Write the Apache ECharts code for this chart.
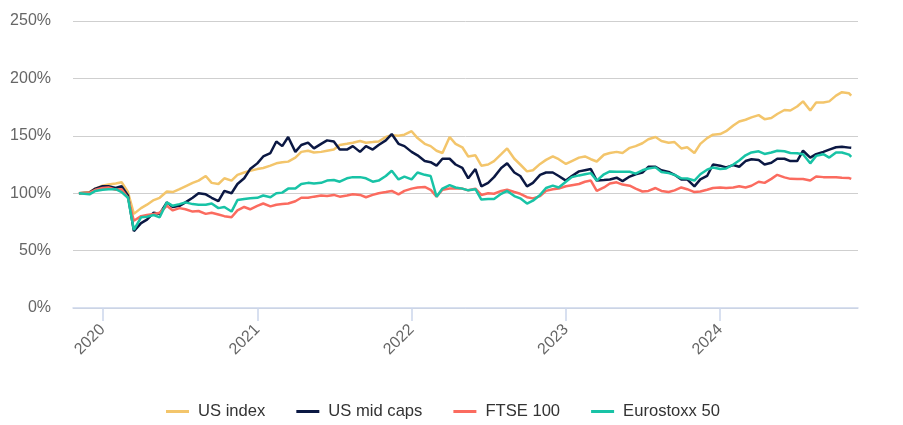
<!DOCTYPE html>
<html>
<head>
<meta charset="utf-8">
<title>Index performance</title>
<script src="https://cdn.jsdelivr.net/npm/echarts@6.0.0/dist/echarts.min.js"></script>
<style>
  html, body { margin: 0; padding: 0; background: #fff; }
  #main { width: 903px; height: 425px; }
</style>
</head>
<body>
<div id="main"></div>
<script>
// semi-monthly sample dates
var dates = [
  '2019-11-06','2019-12-01','2019-12-15',
  '2020-01-01','2020-01-15','2020-02-01','2020-02-15','2020-03-01','2020-03-15','2020-04-01','2020-04-15','2020-05-01','2020-05-15','2020-06-01','2020-06-15',
  '2020-07-01','2020-07-15','2020-08-01','2020-08-15','2020-09-01','2020-09-15','2020-10-01','2020-10-15','2020-11-01','2020-11-15','2020-12-01','2020-12-15',
  '2021-01-01','2021-01-15','2021-02-01','2021-02-15','2021-03-01','2021-03-15','2021-04-01','2021-04-15','2021-05-01','2021-05-15','2021-06-01','2021-06-15',
  '2021-07-01','2021-07-15','2021-08-01','2021-08-15','2021-09-01','2021-09-15','2021-10-01','2021-10-15','2021-11-01','2021-11-15','2021-12-01','2021-12-15',
  '2022-01-01','2022-01-15','2022-02-01','2022-02-15','2022-03-01','2022-03-15','2022-04-01','2022-04-15','2022-05-01','2022-05-15','2022-06-01','2022-06-15',
  '2022-07-01','2022-07-15','2022-08-01','2022-08-15','2022-09-01','2022-09-15','2022-10-01','2022-10-15','2022-11-01','2022-11-15','2022-12-01','2022-12-15',
  '2023-01-01','2023-01-15','2023-02-01','2023-02-15','2023-03-01','2023-03-15','2023-04-01','2023-04-15','2023-05-01','2023-05-15','2023-06-01','2023-06-15',
  '2023-07-01','2023-07-15','2023-08-01','2023-08-15','2023-09-01','2023-09-15','2023-10-01','2023-10-15','2023-11-01','2023-11-15','2023-12-01','2023-12-15',
  '2024-01-01','2024-01-15','2024-02-01','2024-02-15','2024-03-01','2024-03-15','2024-04-01','2024-04-15','2024-05-01','2024-05-15','2024-06-01','2024-06-15',
  '2024-07-01','2024-07-15','2024-08-01','2024-08-15','2024-09-01','2024-09-15','2024-10-01','2024-10-15','2024-11-01','2024-11-06'
];

var usIndex = [
  100, 101, 104,
  106.5, 107.5, 108.5, 109.5, 101, 82, 87, 90, 94, 96, 101.5, 101, 103.5, 106, 109, 111, 115, 109, 108, 113, 111, 116, 118, 119.5,
  121, 122, 124, 126, 127, 127.5, 131, 136, 137, 135.5, 136, 137, 138, 142, 143, 144, 145.5, 144, 144.5, 145, 149, 150.5, 150, 151,
  154, 148, 143, 141, 137, 135, 149, 143, 140, 132, 133, 124, 125, 128, 134, 139, 130, 125, 119, 120, 125.5, 129, 132, 129.6,
  125.5, 128, 131, 132, 129.6, 127.6, 133.5, 135, 136, 135, 139.5, 141, 143.5, 147, 149, 145.5, 144, 144.5, 139, 140, 135, 143, 148, 151,
  151.5, 154, 159, 162.5, 164, 166, 168, 164.5, 165.5, 169, 172.5, 172, 175.5, 180, 172, 179, 179, 180, 185, 188, 187, 185
];

var usMidCaps = [
  100, 100.5, 104,
  106, 106, 104.5, 106, 98, 67, 74, 77, 83, 82, 92, 88, 89, 92, 96, 100, 99, 96, 93, 102, 100, 108, 113, 121,
  126, 132, 135, 145, 141, 149, 136, 142, 144, 139, 143, 146, 145, 138, 138, 141, 136, 141, 138, 142, 146, 151.5, 143, 141,
  136, 133, 128, 127, 124, 130, 130, 125, 122, 113, 121, 106, 109, 114, 122, 126, 118, 115, 106, 109, 116, 118, 118, 115,
  111, 115, 119, 120, 121, 111, 111.5, 112, 113.5, 110.5, 114.5, 116.5, 118, 123, 123, 120, 118.5, 116, 112, 112, 106, 112, 115, 125,
  124, 122.5, 124.5, 123, 128, 129.6, 129, 125, 126.5, 130, 130, 128, 128, 137, 131, 134, 136, 138, 140, 140.5, 139.7, 139.5
];

var ftse100 = [
  100, 100.5, 103,
  104.5, 105, 103, 103.5, 96, 76, 80, 81, 82, 83, 89, 85, 87, 86, 84, 84.5, 82, 83, 81.5, 80, 79, 85, 88, 86,
  89, 91, 88.5, 90, 90.5, 91, 93, 96, 96, 97, 98, 97.5, 98.5, 97, 98, 99, 98.5, 96.5, 98.5, 100, 101, 102, 99, 102,
  104, 105, 105.5, 103, 97, 103, 104, 104, 104, 102.5, 104, 98.5, 100, 99.5, 102, 103, 101, 99.5, 96.5, 95.5, 97.5, 102, 103.5, 104,
  106, 107, 108, 110, 111, 102, 105, 108.5, 109.5, 107.5, 106.5, 104, 101.5, 102, 104.5, 102, 101, 102.5, 105, 103.5, 101, 101.5, 103, 104.5,
  105, 104.5, 105, 106, 105, 106.5, 110, 109, 112.5, 116, 113.8, 112.5, 112.4, 112.4, 111, 114.5, 114, 113.8, 113.8, 113.5, 113.2, 112.4
];

var eurostoxx50 = [
  100, 99, 102,
  103, 103.5, 103.5, 101, 96, 68, 79, 79.5, 81, 79, 92, 89, 90.5, 92, 90.5, 90, 90, 91, 87, 88, 84, 94, 95, 95.5,
  96, 98, 96.5, 100, 100.5, 104, 104, 108, 109, 108.5, 109, 111, 111.5, 110, 113, 114, 114, 113, 110, 111, 115, 119.5, 112, 114.5,
  112, 118, 116, 115, 97, 104, 107, 105, 104, 102.5, 103.5, 94.5, 95, 95, 99.5, 102, 97.5, 95.5, 91, 93.5, 98.5, 104.5, 106.6, 105,
  110, 114, 115.5, 116.5, 117.5, 111, 116.5, 119, 118.7, 118.7, 118.7, 117, 120, 121.5, 122.5, 118.5, 117.5, 116, 113, 112.8, 111, 116.5, 120.5, 122.4,
  121, 121.5, 125, 128.5, 133, 135.5, 136.5, 134.2, 135.5, 137, 136.5, 135, 134.8, 134, 126, 132.5, 134, 131, 135.5, 135.5, 133.6, 131.6
];

var seriesNames = ['US index', 'US mid caps', 'FTSE 100', 'Eurostoxx 50'];
var seriesColors = ['#f3c56b', '#0b1843', '#fb6b5f', '#18c3a6'];
var yearTicks = ['2020-01-01', '2021-01-01', '2022-01-01', '2023-01-01', '2024-01-01'];

function ts(s) { return echarts.time.parse(s).getTime(); }

function pairs(values) {
  return dates.map(function (d, i) { return [ts(d), values[i]]; });
}

var tickValues = yearTicks.map(ts);
var allValues = [usIndex, usMidCaps, ftse100, eurostoxx50];

var myChart = echarts.init(document.getElementById('main'));
myChart.setOption({
  animation: false,
  color: seriesColors,
  textStyle: { fontFamily: 'Liberation Sans, Arial, sans-serif' },
  grid: { left: 73, right: 45, top: 21, bottom: 117 },
  legend: {
    top: 398,
    left: 161,
    itemGap: 31,
    itemWidth: 23,
    itemHeight: 3,
    icon: 'rect',
    textStyle: { color: '#333', fontSize: 16.6, padding: [0, 0, 0, 4] },
    data: seriesNames
  },
  // numeric time axis so the ticks can sit exactly on 1 January
  xAxis: {
    type: 'value',
    min: ts('2019-10-23'),
    max: ts('2024-11-22'),
    axisLine: { lineStyle: { color: '#ccd6eb', width: 1.5 } },
    axisTick: { show: true, length: 13, lineStyle: { color: '#ccd6eb', width: 1.5 }, customValues: tickValues },
    splitLine: { show: false },
    axisLabel: {
      customValues: tickValues,
      rotate: 45,
      margin: 19,
      color: '#666',
      fontSize: 16,
      formatter: function (v) { return String(new Date(v).getFullYear()); }
    }
  },
  yAxis: {
    type: 'value',
    min: 0,
    max: 250,
    interval: 50,
    axisLine: { show: false },
    axisTick: { show: false },
    splitLine: { lineStyle: { color: '#cfcfcf', width: 1 } },
    axisLabel: { color: '#666', fontSize: 16, margin: 22, padding: [6, 0, 0, 0], formatter: '{value}%' }
  },
  series: seriesNames.map(function (name, k) {
    return {
      name: name,
      type: 'line',
      showSymbol: false,
      symbol: 'none',
      lineStyle: { width: 2.5 },
      data: pairs(allValues[k])
    };
  })
});
</script>
</body>
</html>
